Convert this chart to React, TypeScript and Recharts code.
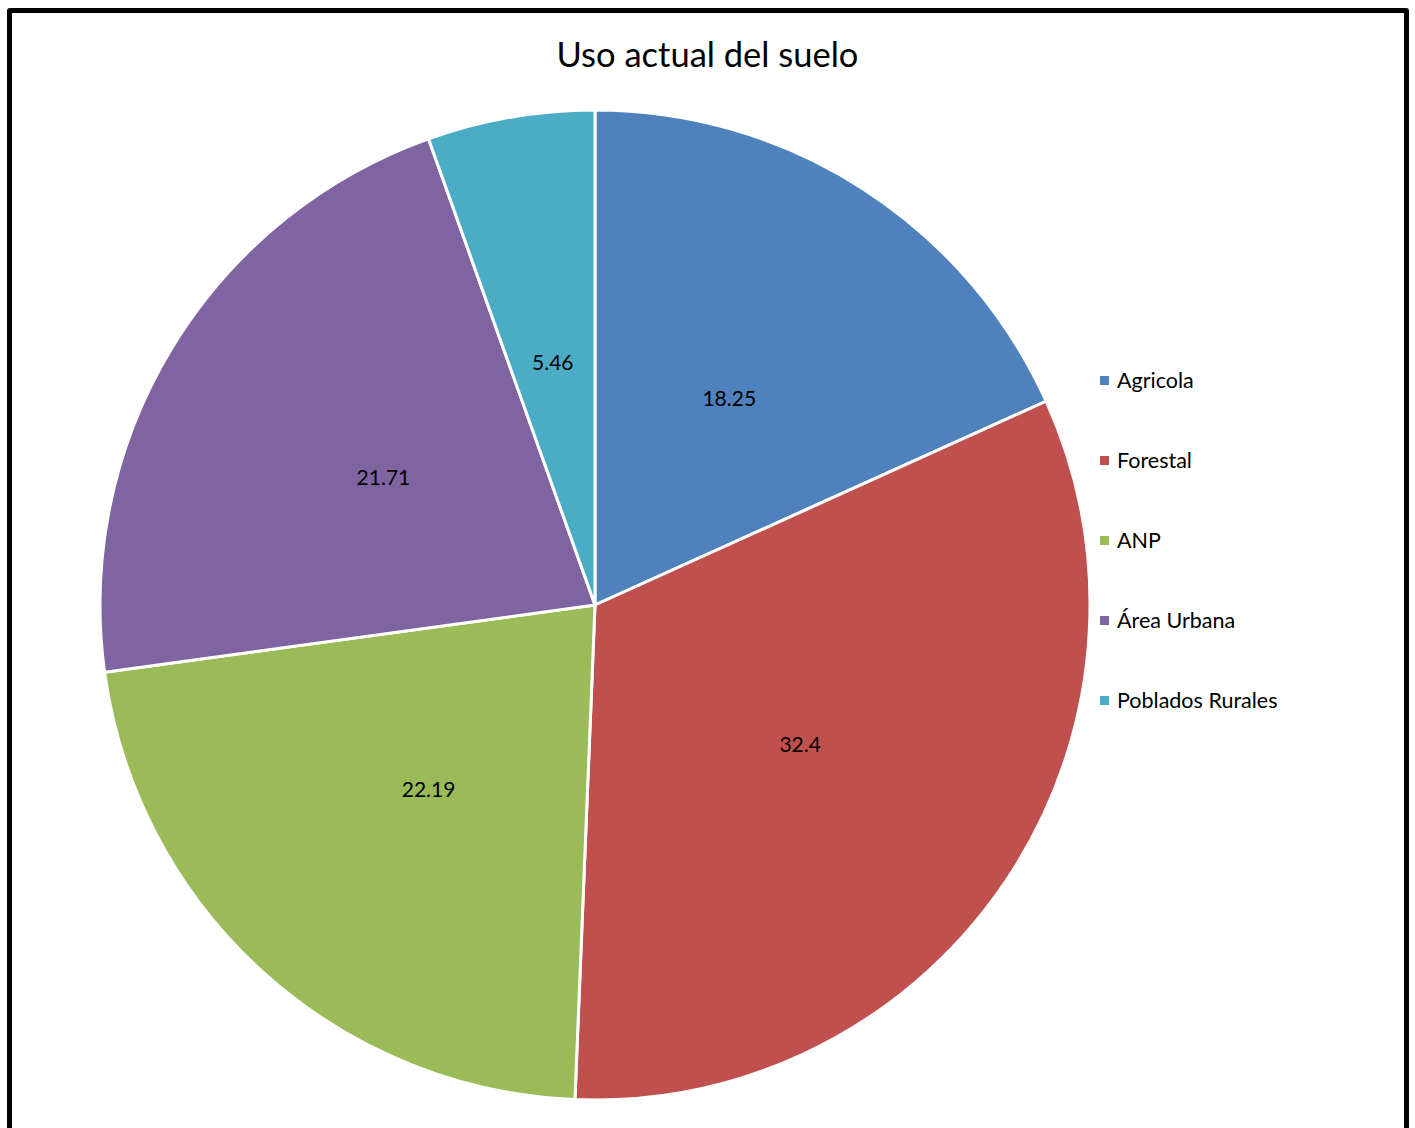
import React from "react";
import { PieChart, Pie, Cell, Legend } from "recharts";

const categories = ["Agricola", "Forestal", "ANP", "Área Urbana", "Poblados Rurales"];
const values = [18.25, 32.4, 22.19, 21.71, 5.46];
const colors = ["#4F81BD", "#C0504D", "#9BBB59", "#8064A2", "#4BACC6"];

const data = categories.map((name, i) => ({ name, value: values[i] }));

const FONT = "Lato, 'Open Sans', sans-serif";

const RADIAN = Math.PI / 180;
const renderLabel = (props: any) => {
  const { cx, cy, midAngle, outerRadius, value } = props;
  const r = outerRadius * 0.5;
  const x = cx + r * Math.cos(-midAngle * RADIAN);
  const y = cy + r * Math.sin(-midAngle * RADIAN);
  return (
    <text x={x} y={y} fill="#000" fontSize={21} fontFamily={FONT} textAnchor="middle" dominantBaseline="central">
      {value}
    </text>
  );
};

const renderLegend = () => (
  <div style={{ fontFamily: FONT, fontSize: 21.5, color: "#000" }}>
    {categories.map((c, i) => (
      <div key={c} style={{ display: "flex", alignItems: "center", height: 80 }}>
        <span style={{ display: "inline-block", width: 9, height: 9, background: colors[i], marginRight: 8 }} />
        <span>{c}</span>
      </div>
    ))}
  </div>
);

export default function App() {
  return (
    <div style={{ position: "absolute", left: 0, top: 0, width: 1415, height: 1128, overflow: "hidden", background: "#fff" }}>
      <div
        style={{
          position: "absolute",
          left: 7,
          top: 8,
          width: 1392,
          height: 1140,
          border: "5px solid #000",
          borderRadius: 3,
        }}
      />
      <div
        style={{
          position: "absolute",
          left: 0,
          top: 33,
          width: 1415,
          textAlign: "center",
          fontFamily: FONT,
          fontSize: 34.5,
          color: "#000",
        }}
      >
        Uso actual del suelo
      </div>
      <div style={{ position: "absolute", left: 0, top: 0 }}>
        <PieChart width={1415} height={1128} margin={{ top: 0, right: 0, bottom: 0, left: 0 }}>
          <Pie
            data={data}
            dataKey="value"
            nameKey="name"
            cx={595}
            cy={605}
            outerRadius={495}
            startAngle={90}
            endAngle={-270}
            stroke="#fff"
            strokeWidth={3}
            label={renderLabel}
            labelLine={false}
            isAnimationActive={false}
          >
            {data.map((d, i) => (
              <Cell key={d.name} fill={colors[i]} />
            ))}
          </Pie>
          <Legend
            layout="vertical"
            content={renderLegend}
            wrapperStyle={{ position: "absolute", left: 1100, top: 340, width: 280 }}
          />
        </PieChart>
      </div>
    </div>
  );
}
